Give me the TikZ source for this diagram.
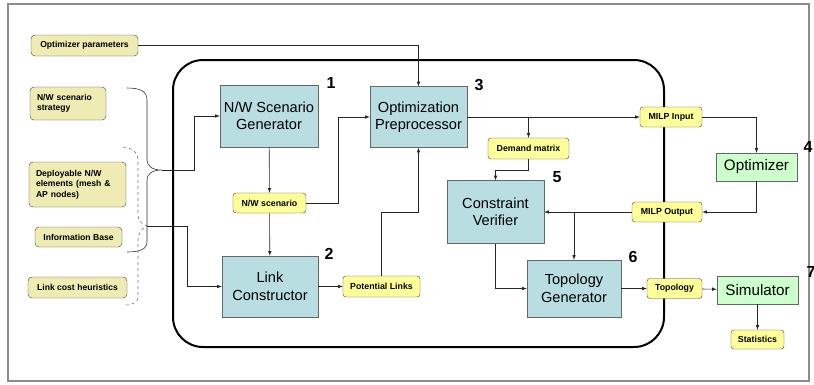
\documentclass[tikz,border=0pt]{standalone}
\usepackage{fontspec}
\setmainfont{Liberation Sans}
\usetikzlibrary{calc}
\definecolor{boxblue}{RGB}{184,222,226}
\definecolor{boxgreen}{RGB}{204,255,204}
\definecolor{tagyellow}{RGB}{255,255,153}
\definecolor{srckhaki}{RGB}{238,236,178}

\begin{document}
\begin{tikzpicture}[x=1pt,y=-1pt,
	block/.style={draw=black!60,fill=boxblue,align=center,inner sep=0,font=\fontsize{14.6}{17.5}\selectfont},
	tool/.style={draw=black!60,fill=boxgreen,inner sep=0,font=\fontsize{15.2}{17}\selectfont},
	tag/.style={draw=black!75,fill=tagyellow,rounded corners=3pt,inner sep=0,font=\fontsize{8.8}{9}\selectfont\bfseries},
	src/.style={draw=black!75,fill=srckhaki,rounded corners=4pt,inner ysep=0,align=left,font=\fontsize{8.6}{10.5}\selectfont\bfseries},
	num/.style={font=\fontsize{16}{16}\selectfont\bfseries},
	brace/.style={line width=0.6pt,black!80},
	wire/.style={line width=0.6pt,black!85}]
	\tikzset{>=latex}
	\useasboundingbox (0,0) rectangle (814,384);
	\draw [black!45, line width=1.2pt] (8,4) rectangle (809,381);
	\draw [line width=2pt, rounded corners=30pt] (173,60) rectangle (664,347);

	% inputs on the left
	\node [src, minimum width=107, minimum height=21, align=center] (optpar) at (84.5,45.5) {Optimizer parameters};
	\node [src, text width=62, inner xsep=7, minimum height=33] (strat) at (68,103.5) {N/W scenario\\strategy};
	\node [src, text width=83, inner xsep=7, minimum height=45] (deploy) at (77.5,184.5) {Deployable N/W\\elements (mesh \&\\AP nodes)};
	\node [src, minimum width=87, minimum height=20, align=center] (infobase) at (78.5,237) {Information Base};
	\node [src, minimum width=99, minimum height=21, align=center] (linkcost) at (77.5,287.5) {Link cost heuristics};

	% the blocks
	\node [block, minimum width=98, minimum height=62] (nwgen) at (269,116) {N/W Scenario\\Generator};
	\node [block, minimum width=96, minimum height=61] (linkc) at ($(nwgen)+(1,170.5)$) {Link\\Constructor};
	\node [block, minimum width=97, minimum height=61] (optpre) at (418.5,117) {Optimization\\Preprocessor};
	\node [block, minimum width=97, minimum height=63] (cverif) at (495.5,212) {Constraint\\Verifier};
	\node [block, minimum width=94, minimum height=57] (topgen) at (574,288.5) {Topology\\Generator};
	\node [tool, minimum width=81, minimum height=28] (optim) at (756.5,167) {Optimizer};
	\node [tool, minimum width=81, minimum height=28] (simul) at ($(optim)+(1,123)$) {Simulator};

	\node [tag, minimum width=73, minimum height=20] (nwscen) at ($(nwgen)+(0.5,87)$) {N/W scenario};
	\node [tag, minimum width=77, minimum height=21] (potlinks) at ($(linkc)+(111.5,0)$) {Potential Links};
	\node [tag, minimum width=81, minimum height=21] (demand) at (528.5,148.5) {Demand matrix};
	\node [tag, minimum width=62, minimum height=20] (milpin) at (671,117) {MILP Input};
	\node [tag, minimum width=70, minimum height=20] (milpout) at (667,212) {MILP Output};
	\node [tag, minimum width=55, minimum height=20] (topo) at (674.5,288.5) {Topology};
	\node [tag, minimum width=53, minimum height=19] (stats) at ($(simul)+(0,49.5)$) {Statistics};

	\node [num] (n1) at (331,83) {1};
	\node [num] (n2) at (329,254) {2};
	\node [num] (n3) at (479,85) {3};
	\node [num] (n4) at (808,147) {4};
	\node [num] (n5) at (557,177) {5};
	\node [num] (n6) at (633,257) {6};
	\node [num] (n7) at (811,272) {7};

	% braces
	\draw [brace] (127,88) .. controls (140,88) and (147,91) .. (147,100) -- (147,160)
		.. controls (147,166) and (152,170) .. (162,170) coordinate (tipa)
		.. controls (152,170) and (147,174) .. (147,180) -- (147,242)
		.. controls (147,249) and (140,252) .. (127,252);
	\draw [brace, black!55, dashed] (123,147) .. controls (132,148) and (138,152) .. (138,159) -- (138,214)
		.. controls (138,220) and (141,224) .. (147,226) coordinate (tipb)
		.. controls (141,229) and (138,234) .. (138,240) -- (138,297)
		.. controls (138,302) and (133,305) .. (125,305);

	% connectors
	\draw [wire, ->] (optpar) -| (optpre);
	\draw [wire, ->] (tipa) -- ++(32,0) |- (nwgen);
	\draw [wire, ->] (tipb) -- ++(40,0) |- (linkc);
	\draw [wire, ->] (nwgen) -- (nwscen);
	\draw [wire, ->] (nwscen) -- (linkc);
	\draw [wire, ->] (nwscen.east) -- ++(32,0) |- (optpre);
	\draw [wire, ->] (linkc) -- (potlinks);
	\draw [wire, ->] (potlinks.north) -- ++(0,-64) -| (optpre.south);
	\draw [wire, ->] (optpre) -- (milpin);
	\draw [wire, ->] (optpre.east -| demand.north) -- (demand.north);
	\draw [wire, ->] (demand.south) -- ++(0,11) -| (cverif.north);
	\draw [wire, ->] (milpin) -| (optim);
	\draw [wire, ->] (optim) |- (milpout);
	\draw [wire, ->] (milpout) -- (cverif);
	\draw [wire, ->] (milpout.west -| topgen.north) -- (topgen.north);
	\draw [wire, ->] (cverif) |- (topgen);
	\draw [wire, ->] (topgen) -- (topo);
	\draw [wire, ->] (topo) -- (simul);
	\draw [wire, ->] (simul) -- (stats);
\end{tikzpicture}
\end{document}
